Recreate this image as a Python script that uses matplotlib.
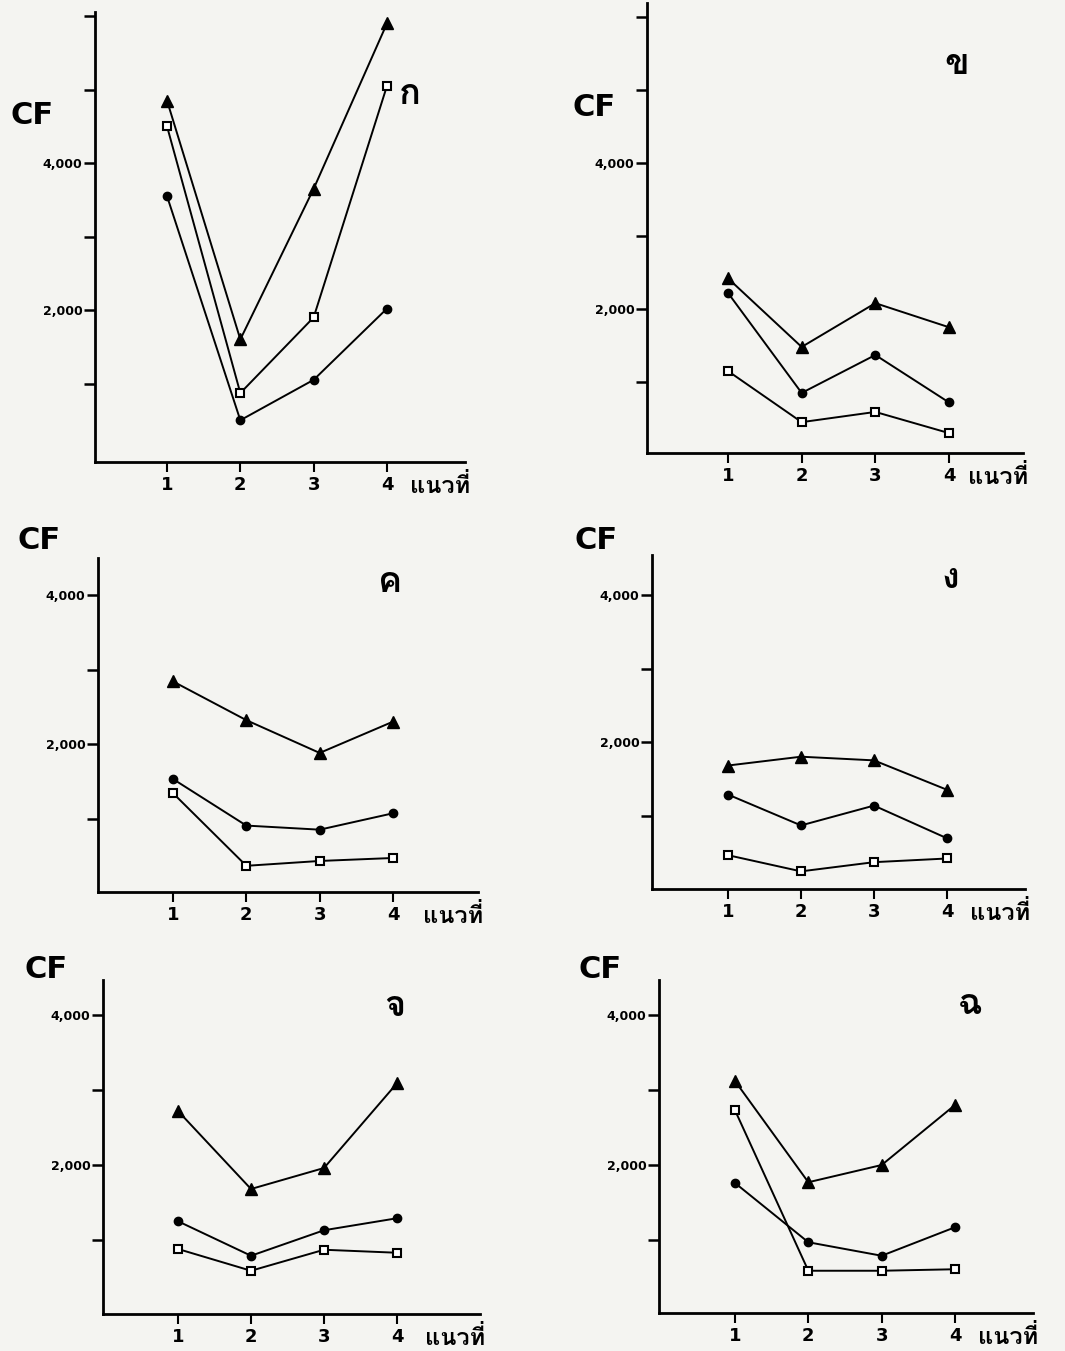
import matplotlib.pyplot as plt
import numpy as np
from matplotlib import font_manager
from matplotlib.ft2font import FT2Font

# แนวที่ 1-4
rows = [1, 2, 3, 4]
panel_names = ['ก', 'ข', 'ค', 'ง', 'จ', 'ฉ']
xlabel = 'แนวที่'

# ค่า CF ของแต่ละกราฟ: สามเหลี่ยม, วงกลม, สี่เหลี่ยม
tri = [
    [4850, 1600, 3650, 5900],
    [2420, 1480, 2080, 1750],
    [2840, 2320, 1880, 2300],
    [1680, 1800, 1750, 1350],
    [2720, 1680, 1960, 3090],
    [3120, 1770, 2000, 2800],
]
dot = [
    [3550, 500, 1050, 2020],
    [2220, 850, 1370, 720],
    [1530, 905, 850, 1070],
    [1285, 865, 1135, 690],
    [1250, 790, 1130, 1290],
    [1760, 970, 790, 1170],
]
sq = [
    [4500, 870, 1900, 5050],
    [1150, 450, 590, 300],
    [1340, 365, 430, 470],
    [460, 240, 365, 415],
    [880, 590, 870, 830],
    [2730, 590, 590, 610],
]

# หาฟอนต์ที่มีอักษรไทย
need = set(''.join(panel_names) + xlabel)
thai_fonts = []
for f in font_manager.fontManager.ttflist:
    try:
        cmap = FT2Font(f.fname).get_charmap()
    except Exception:
        continue
    if all(ord(c) in cmap for c in need) and f.name not in thai_fonts:
        thai_fonts.append(f.name)
thai = thai_fonts[:1] + ['DejaVu Sans']

W, H = 1065, 1351
fig = plt.figure(figsize=(W / 100, H / 100), dpi=100)
fig.patch.set_facecolor('#f4f4f1')

# ตำแหน่งพิกเซล: แกน y, ปลายแกน x, x=1, x=4, บน, ล่าง, ค่า 2000, ค่า 4000
layout = [
    (95, 465, 167, 387, 12, 462, 310, 163),
    (647, 1023, 728, 949, 3, 453, 309, 163),
    (98, 478, 173, 393, 558, 892, 744, 595),
    (652, 1025, 728, 947, 555, 889, 742, 595),
    (103, 480, 178, 397, 980, 1314, 1165, 1015),
    (659, 1033, 735, 955, 980, 1313, 1165, 1015),
]
# ตำแหน่ง CF และชื่อกราฟ
cf_pos = [(10, 115), (573, 108), (18, 540), (575, 540), (25, 970), (578, 970)]
name_pos = [(410, 95), (957, 65), (390, 583), (950, 579), (395, 1007), (970, 1005)]

for i in range(6):
    yax, right, x1, x4, top, bot, p2k, p4k = layout[i]
    ax = fig.add_axes([yax / W, 1 - bot / H, (right - yax) / W, (bot - top) / H])
    ax.set_facecolor('none')

    unit = (x4 - x1) / 3
    ax.set_xlim(1 - (x1 - yax) / unit, 4 + (right - x4) / unit)
    per = (p2k - p4k) / 2000
    ax.set_ylim(2000 - (bot - p2k) / per, 4000 + (p4k - top) / per)

    ax.plot(rows, tri[i], color='black', lw=1.4, marker='^', ms=8, mfc='black')
    ax.plot(rows, dot[i], color='black', lw=1.4, marker='o', ms=6, mfc='black')
    ax.plot(rows, sq[i], color='black', lw=1.4, marker='s', ms=6, mfc='white', mew=1.5)

    for s in ['top', 'right']:
        ax.spines[s].set_visible(False)
    for s in ['left', 'bottom']:
        ax.spines[s].set_linewidth(2)

    yt = np.arange(1000, ax.get_ylim()[1], 1000)
    ax.set_yticks(yt)
    ax.set_yticklabels(['{:,}'.format(int(v)) if v in (2000, 4000) else '' for v in yt],
                       fontsize=9, fontweight='bold')
    ax.set_xticks(rows)
    ax.set_xticklabels([str(r) for r in rows], fontsize=13, fontweight='bold')
    ax.tick_params(axis='y', length=8, width=1.8, pad=1)
    ax.tick_params(axis='x', length=7, width=1.5, pad=3)

    fig.text(cf_pos[i][0] / W, 1 - cf_pos[i][1] / H, 'CF', fontsize=22,
             fontweight='bold', va='center', ha='left')
    fig.text(name_pos[i][0] / W, 1 - name_pos[i][1] / H, panel_names[i], fontsize=26,
             fontweight='bold', va='center', ha='center', family=thai)
    fig.text((right + 5) / W, 1 - (bot + 24) / H, xlabel, fontsize=17,
             fontweight='bold', va='center', ha='right', family=thai)

fig.savefig('out.png', dpi=100, facecolor=fig.get_facecolor())
